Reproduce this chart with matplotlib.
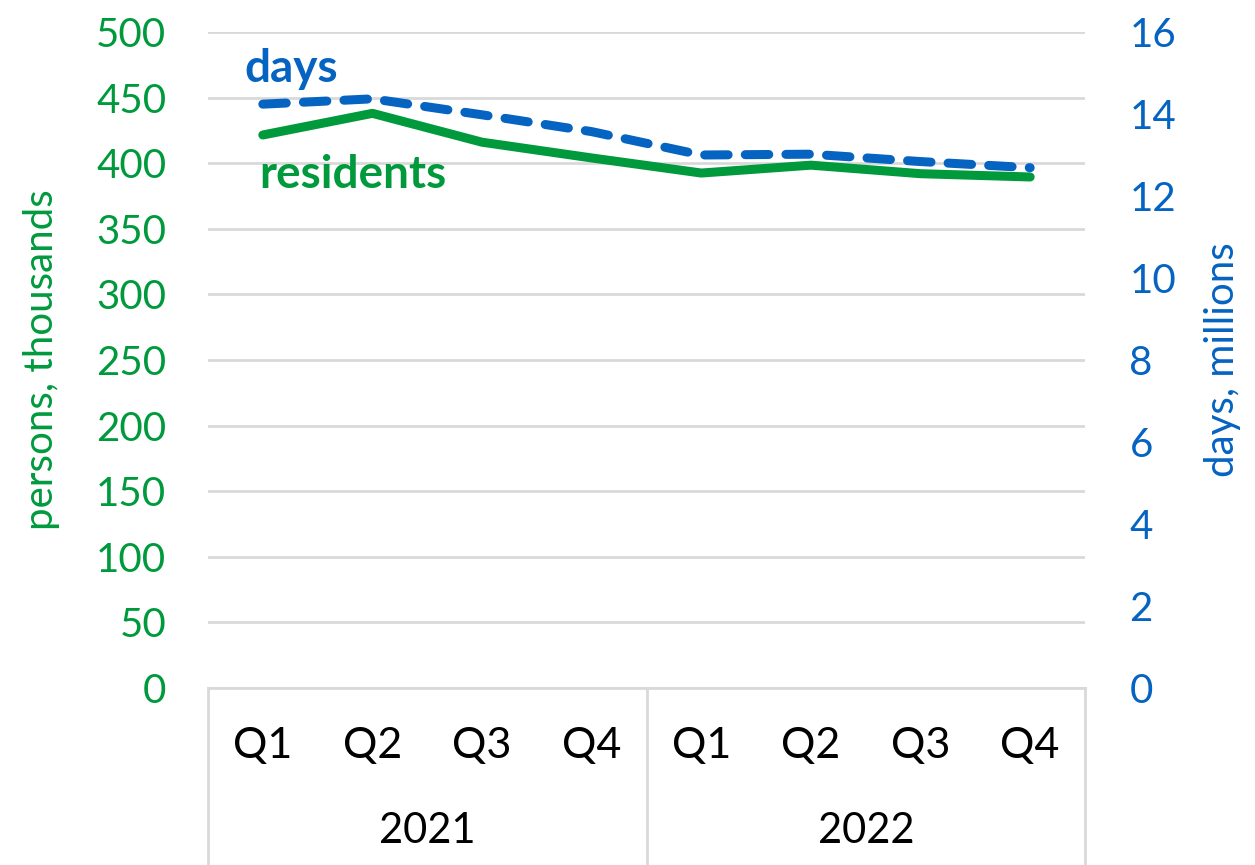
import matplotlib.pyplot as plt

plt.rcParams['font.family'] = ['Lato', 'DejaVu Sans']

quarters = ["Q1", "Q2", "Q3", "Q4", "Q1", "Q2", "Q3", "Q4"]
years = ["2021", "2022"]
residents = [421.5, 438, 416, 404, 392.5, 398.5, 392, 389.5]   # thousands
days = [14.24, 14.37, 13.98, 13.57, 13.0, 13.02, 12.84, 12.69]  # millions

green = "#009A3D"
blue = "#0563C1"
grid = "#D9D9D9"

fig = plt.figure(figsize=(12.55, 8.65), dpi=100)
ax = fig.add_axes([208 / 1255, 1 - 688 / 865, 877 / 1255, 656 / 865])
ax2 = ax.twinx()

x = list(range(len(quarters)))
ax.plot(x, residents, color=green, lw=6.5, solid_capstyle="round", solid_joinstyle="round", zorder=3)
ax2.plot(x, days, color=blue, lw=6.5, dashes=(2.6, 1.9), dash_capstyle="round", zorder=3)

ax.set_xlim(-0.5, 7.5)
ax.set_ylim(0, 500)
ax.set_yticks(range(0, 501, 50))
ax2.set_ylim(0, 16)
ax2.set_yticks(range(0, 17, 2))

ax.yaxis.grid(True, color=grid, lw=2)
ax.set_axisbelow(True)

for a in (ax, ax2):
    for s in a.spines.values():
        s.set_visible(False)
ax.spines["bottom"].set_visible(True)
ax.spines["bottom"].set_color(grid)
ax.spines["bottom"].set_linewidth(2)

ax.set_xticks(x)
ax.set_xticklabels(quarters)
ax.tick_params(axis="x", length=0, pad=28, labelsize=31, labelcolor="black")
ax.tick_params(axis="y", length=0, pad=30, labelsize=29, labelcolor=green)
ax2.tick_params(axis="y", length=0, pad=32, labelsize=29, labelcolor=blue)

ax.set_ylabel("persons, thousands", color=green, fontsize=29, labelpad=26)
ax2.set_ylabel("days, millions", color=blue, fontsize=29, labelpad=20)

# year level of the category axis
tr = ax.get_xaxis_transform()
for xs in (-0.5, 3.5, 7.5):
    ax.plot([xs, xs], [0, -0.3], color=grid, lw=2, transform=tr, clip_on=False)
for i, yr in enumerate(years):
    ax.text(1.5 + 4 * i, -0.218, yr, transform=tr, ha="center", va="center", fontsize=30)

ax2.text(0.26, 15.1, "days", color=blue, fontsize=33, fontweight="bold", ha="center", va="center")
ax.text(0.82, 391, "residents", color=green, fontsize=33, fontweight="bold", ha="center", va="center")

fig.savefig("out.png", dpi=100)
